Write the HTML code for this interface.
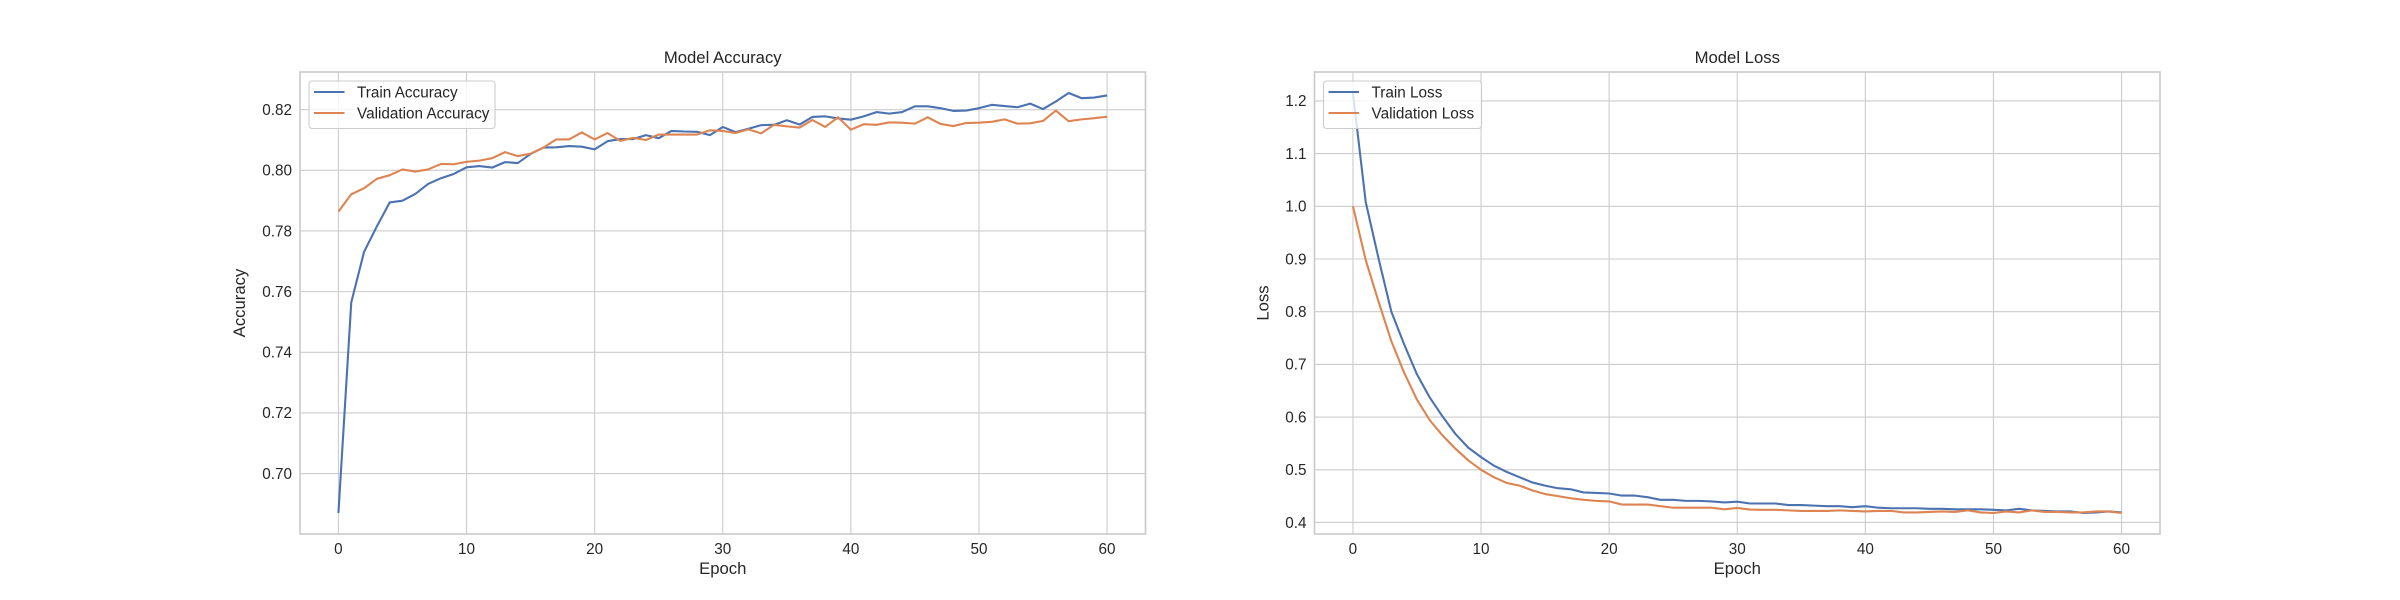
<!DOCTYPE html>
<html><head><meta charset="utf-8"><style>
html,body{margin:0;padding:0;background:#fff;}
svg{display:block;font-family:"Liberation Sans","DejaVu Sans",sans-serif;}
</style></head><body>
<svg id="fig" width="2400" height="600" viewBox="0 0 2400 600" xmlns="http://www.w3.org/2000/svg"></svg>
<script>
const epochs = Array.from({length:61},(_,i)=>i);
const trainAcc = [0.687,0.7564,0.7731,0.7815,0.7894,0.7900,0.7922,0.7955,0.7974,0.7988,0.8010,0.8014,0.8009,0.8027,0.8024,0.8054,0.8075,0.8076,0.8080,0.8078,0.8069,0.8096,0.8103,0.8103,0.8116,0.8106,0.8130,0.8128,0.8127,0.8116,0.8143,0.8126,0.8137,0.8149,0.8150,0.8165,0.8151,0.8176,0.8178,0.8171,0.8167,0.8178,0.8192,0.8187,0.8192,0.8211,0.8211,0.8205,0.8196,0.8197,0.8205,0.8216,0.8212,0.8208,0.8220,0.8202,0.8227,0.8255,0.8238,0.8240,0.8247];
const valAcc = [0.7864,0.7921,0.7941,0.7972,0.7984,0.8003,0.7996,0.8003,0.8021,0.8020,0.8028,0.8032,0.8040,0.8060,0.8047,0.8055,0.8075,0.8102,0.8102,0.8125,0.8102,0.8123,0.8097,0.8107,0.8100,0.8118,0.8118,0.8118,0.8118,0.8132,0.8130,0.8123,0.8135,0.8122,0.8150,0.8145,0.8141,0.8166,0.8143,0.8175,0.8134,0.8152,0.8150,0.8158,0.8157,0.8154,0.8175,0.8153,0.8146,0.8156,0.8157,0.8160,0.8168,0.8154,0.8155,0.8163,0.8197,0.8162,0.8168,0.8172,0.8177];
const trainLoss = [1.215,1.008,0.901,0.800,0.738,0.681,0.637,0.601,0.568,0.542,0.524,0.508,0.496,0.486,0.476,0.470,0.465,0.463,0.457,0.456,0.455,0.451,0.451,0.448,0.443,0.443,0.441,0.441,0.440,0.438,0.4395,0.436,0.436,0.436,0.433,0.433,0.432,0.431,0.431,0.429,0.431,0.428,0.427,0.427,0.427,0.426,0.426,0.425,0.425,0.425,0.424,0.423,0.426,0.423,0.422,0.421,0.421,0.418,0.419,0.421,0.419];
const valLoss = [1.000,0.898,0.819,0.744,0.684,0.633,0.594,0.565,0.540,0.518,0.500,0.486,0.475,0.470,0.461,0.454,0.450,0.446,0.443,0.441,0.440,0.434,0.434,0.434,0.431,0.428,0.428,0.428,0.428,0.425,0.4276,0.4245,0.424,0.424,0.423,0.422,0.422,0.422,0.423,0.422,0.421,0.422,0.422,0.419,0.419,0.420,0.421,0.420,0.423,0.419,0.418,0.421,0.419,0.423,0.420,0.420,0.419,0.419,0.421,0.421,0.418];
const xTicks = [0,10,20,30,40,50,60];
const accTicks = [0.70,0.72,0.74,0.76,0.78,0.80,0.82];
const lossTicks = [0.4,0.5,0.6,0.7,0.8,0.9,1.0,1.1,1.2];

const NS="http://www.w3.org/2000/svg";
const svg=document.getElementById('fig');
function mk(tag,attrs,parent){const e=document.createElementNS(NS,tag);for(const k in attrs)e.setAttribute(k,attrs[k]);(parent||svg).appendChild(e);return e;}

function drawAxes(cfg){
  const L=cfg.left,R=cfg.right,T=72,B=534;
  const g=mk('g',{});
  
  
  const all=cfg.series.flatMap(s=>s.data);
  const mn=Math.min(...all),mx=Math.max(...all),m=(mx-mn)*0.05;
  const y0=mn-m,y1=mx+m;
  const xs=x=>L+(x+3)/66*(R-L);
  const ys=v=>B-(v-y0)/(y1-y0)*(B-T);
  for(const t of xTicks){
    const ln=mk('line',{x1:xs(t),x2:xs(t),y1:T,y2:B,stroke:'#cccccc','stroke-width':1.1},g);
    
    
    const tx=mk('text',{x:xs(t),y:B+20,'text-anchor':'middle','font-size':15.3,fill:'#262626'},g);
    
    
    tx.textContent=t;
  }
  for(const t of cfg.yTicks){
    const yy=ys(t);
    const ln=mk('line',{x1:L,x2:R,y1:yy,y2:yy,stroke:'#cccccc','stroke-width':1.1},g);
    
    
    const tx=mk('text',{x:L-8,y:yy+5.3,'text-anchor':'end','font-size':15.3,fill:'#262626'},g);
    
    
    tx.textContent=t.toFixed(cfg.dec);
  }
  const fr=mk('rect',{x:L,y:T,width:R-L,height:B-T,fill:'none',stroke:'#cccccc','stroke-width':1.7},g);
  
  
  for(const s of cfg.series){
    const d=s.data.map((v,i)=>(i?'L':'M')+xs(epochs[i]).toFixed(2)+','+ys(v).toFixed(2)).join('');
    const p=mk('path',{d:d,fill:'none',stroke:s.color,'stroke-width':2.1,'stroke-linejoin':'round'},g);
    
    
  }
  const title=mk('text',{x:(L+R)/2,y:T-9,'text-anchor':'middle','font-size':16.7,fill:'#262626'},g);
  
  
  title.textContent=cfg.title;
  const xl=mk('text',{x:(L+R)/2,y:B+40,'text-anchor':'middle','font-size':16.7,fill:'#262626'},g);
  
  
  xl.textContent='Epoch';
  const ylx=L-cfg.ylOff, ylc=(T+B)/2;
  const yl=mk('text',{x:ylx,y:ylc,'text-anchor':'middle','font-size':16.7,fill:'#262626',transform:`rotate(-90 ${ylx} ${ylc})`},g);
  
  
  yl.textContent=cfg.ylabel;
  // legend
  const lg=mk('g',{},g);
  
  
  mk('rect',{x:L+9,y:81,width:cfg.legW,height:47.5,rx:3,fill:'#ffffff','fill-opacity':0.8,stroke:'#cccccc','stroke-width':1.1},lg);
  cfg.series.forEach((s,i)=>{
    const cy=92+i*21;
    const hl=mk('line',{x1:L+14,x2:L+44.5,y1:cy,y2:cy,stroke:s.color,'stroke-width':2.1},lg);
    
    
    const lt=mk('text',{x:L+57,y:cy+5.3,'font-size':15.3,fill:'#262626'},lg);
    
    
    lt.textContent=s.label;
  });
}
drawAxes({name:'accuracy-chart',left:300,right:1145.5,title:'Model Accuracy',ylabel:'Accuracy',yTicks:accTicks,dec:2,ylOff:55,legW:186,
  series:[{id:'train-accuracy-line',label:'Train Accuracy',data:trainAcc,color:'#4c72b0'},{id:'validation-accuracy-line',label:'Validation Accuracy',data:valAcc,color:'#dd8452'}]});
drawAxes({name:'loss-chart',left:1314.5,right:2160,title:'Model Loss',ylabel:'Loss',yTicks:lossTicks,dec:1,ylOff:46,legW:158,
  series:[{id:'train-loss-line',label:'Train Loss',data:trainLoss,color:'#4c72b0'},{id:'validation-loss-line',label:'Validation Loss',data:valLoss,color:'#dd8452'}]});
</script>
</body></html>
